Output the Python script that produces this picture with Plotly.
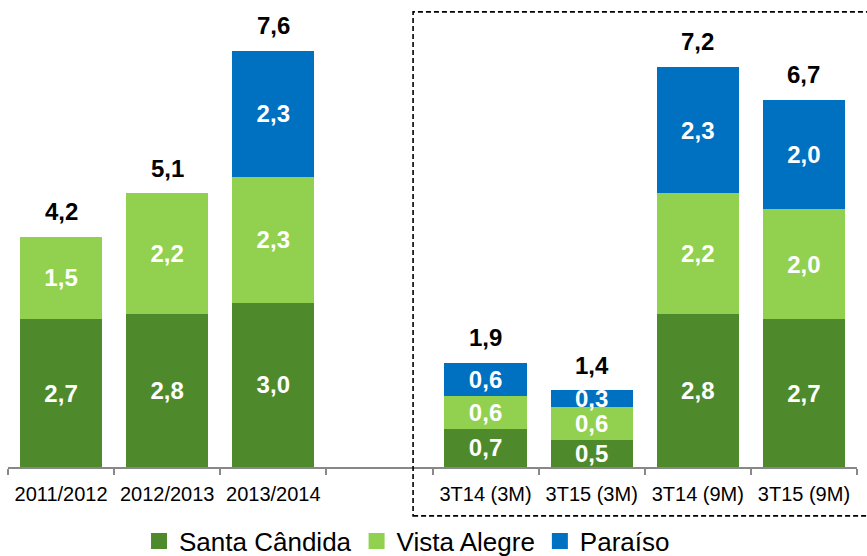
import plotly.graph_objects as go

categories = ["2011/2012", "2012/2013", "2013/2014", " ", "3T14 (3M)", "3T15 (3M)", "3T14 (9M)", "3T15 (9M)"]
santa_candida = [2.7, 2.8, 3.0, None, 0.7, 0.5, 2.8, 2.7]
vista_alegre = [1.5, 2.2, 2.3, None, 0.6, 0.6, 2.2, 2.0]
paraiso = [None, None, 2.3, None, 0.6, 0.3, 2.3, 2.0]
totals = [4.2, 5.1, 7.6, None, 1.9, 1.4, 7.2, 6.7]

series_names = ["Santa Cândida", "Vista Alegre", "Paraíso"]
series_colors = ["#4E8A2C", "#92D050", "#0070C0"]

FONT = "Liberation Sans, Arial, sans-serif"

fig = go.Figure()
for name, vals, col in zip(series_names, [santa_candida, vista_alegre, paraiso], series_colors):
    fig.add_trace(go.Bar(
        x=categories, y=vals, name=name, showlegend=False,
        marker=dict(color=col, line=dict(width=0)),
        text=[None if v is None else f"{v:.1f}".replace(".", ",") for v in vals],
        texttemplate="<b>%{text}</b>",
        textposition="inside", insidetextanchor="middle",
        constraintext="none",
        textfont=dict(family=FONT, size=24, color="white"),
        hoverinfo="skip",
    ))

# legend entries with larger square swatches
for name, col in zip(series_names, series_colors):
    fig.add_trace(go.Scatter(
        x=[None], y=[None], mode="markers", name=name,
        marker=dict(symbol="square", size=16, color=col),
        showlegend=True, hoverinfo="skip",
    ))

# total labels above stacks
for i, c in enumerate(categories):
    if totals[i] is None:
        continue
    top = sum(v for v in (santa_candida[i], vista_alegre[i], paraiso[i]) if v is not None)
    fig.add_annotation(
        x=c, y=top, text=f"<b>{totals[i]:.1f}".replace(".", ",") + "</b>",
        showarrow=False, yanchor="middle", yshift=25,
        font=dict(family=FONT, size=24, color="black"),
    )

# dashed frame around the quarterly group
n = len(categories)
fig.add_shape(
    type="rect", xref="paper", yref="paper",
    x0=(3.317 + 0.5) / n, x1=1.02, y0=-0.107, y1=0.996,
    line=dict(color="black", width=1.6, dash="5px,3px"),
    fillcolor="rgba(0,0,0,0)", layer="above",
)

fig.update_layout(
    width=867, height=556,
    barmode="stack", bargap=0.226,
    plot_bgcolor="white", paper_bgcolor="white",
    margin=dict(l=8, r=10, t=10, b=89, autoexpand=False),
    separators=",.",
    font=dict(family=FONT, color="black"),
    showlegend=True,
    legend=dict(
        orientation="h", x=0.47, xanchor="center", y=-0.162, yanchor="middle",
        font=dict(family=FONT, size=26, color="black"),
        traceorder="normal", itemwidth=30, tracegroupgap=0,
    ),
    xaxis=dict(
        type="category", categoryorder="array", categoryarray=categories,
        showline=True, linecolor="#888888", linewidth=1.5,
        ticks="outside", tickson="boundaries", ticklen=6, tickcolor="#888888", tickwidth=1.5,
        tickfont=dict(family=FONT, size=20, color="black"),
        tickangle=0, ticklabelstandoff=8,
        showgrid=False, zeroline=False, fixedrange=True,
    ),
    yaxis=dict(
        range=[0, 8.34], visible=False, showgrid=False, zeroline=False, fixedrange=True,
    ),
)

fig.write_html("out.html", config={"displayModeBar": False},
               post_script="document.body.style.margin='0';")
